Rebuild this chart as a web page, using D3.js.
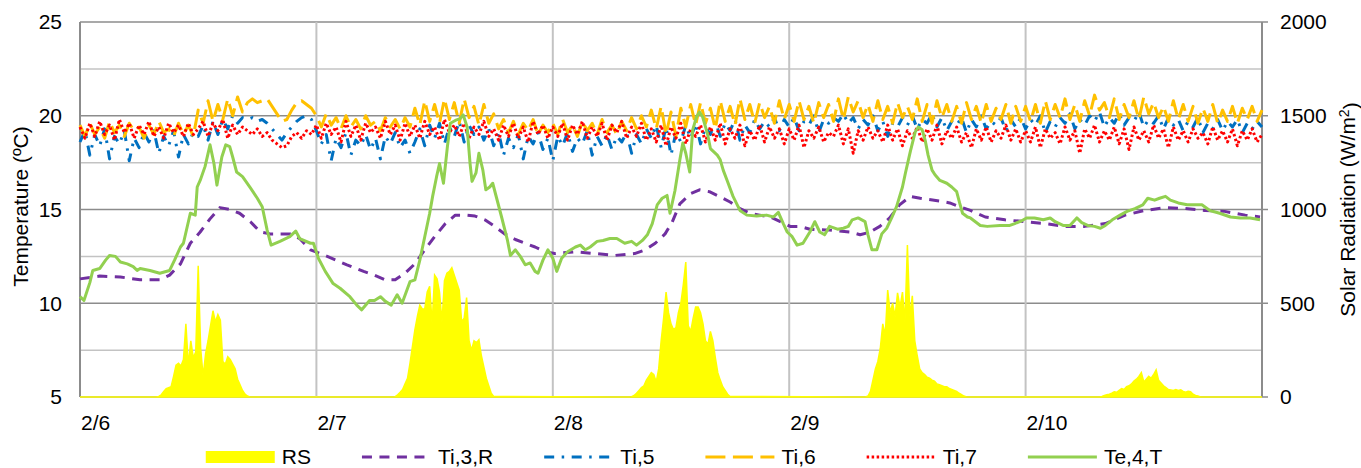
<!DOCTYPE html>
<html>
<head>
<meta charset="utf-8">
<script src="https://cdn.jsdelivr.net/npm/d3@7"></script>
<style>
body { margin: 0; background: #fff; }
svg text { font-family: "Liberation Sans", Arial, sans-serif; fill: #000; }
</style>
</head>
<body>
<svg width="1361" height="468"></svg>
<script>
// x axis: hours since 2/6 00:00
var days = ["2/6", "2/7", "2/8", "2/9", "2/10"];
var tempTicks = [5, 10, 15, 20, 25];
var radTicks = [0, 500, 1000, 1500, 2000];

// solar radiation (W/m2), one array per day, every 15 min from 06:00 to 18:00
var rsDay1 = [0,0,0,0,0,0,0,0, 3,12,30,45,50,55,110,170,180,165,200,390,170,300,210,240,700,260,110,230,300,380,460,400,440,410,190,175,215,200,175,150,95,65,35,15,5,0,0,0,0];
var rsDay2 = [0,0,0,0,0,0,0,0, 2,12,25,40,70,100,180,270,360,430,490,470,470,560,590,390,650,630,560,400,620,660,670,690,650,610,570,400,420,530,300,250,300,290,305,220,160,100,60,20,3];
var rsDay3 = [0,0,0,0,0,0,0,0, 2,8,20,35,50,60,90,110,130,120,80,150,300,420,560,450,390,360,370,450,500,600,720,380,350,420,480,480,450,390,300,280,350,300,210,130,90,55,35,15,3];
var rsDay4 = [0,0,0,0,0,0,0,0, 5,30,90,150,190,260,390,330,570,450,500,430,555,480,560,400,810,430,540,300,220,150,130,120,105,100,90,85,70,65,60,55,55,45,40,35,30,20,12,5,0];
var rsDay5 = [0,0,0,0,0,0,0, 3,8,12,15,20,28,25,35,45,40,55,60,70,85,95,110,130,80,95,110,100,120,145,90,75,60,50,40,38,35,40,35,38,30,25,30,28,15,8,5,0,0];

// Ti,3,R  [hour, degC]
var ti3r = [[0,11.3],[2,11.45],[4.1,11.4],[6.1,11.25],[8.1,11.25],[9.1,11.5],[10.2,12.1],[11.2,13.2],[12.2,13.8],[13.2,14.5],[14.2,15.1],[15.2,15.0],[16.2,14.8],[17.3,14.35],[18.3,13.8],[19.3,13.7],[21.3,13.7],[22.3,13.45],[23.4,12.85],[24.4,12.65],[27.1,12.05],[28.8,11.7],[29.9,11.5],[31,11.25],[32,11.25],[33,11.6],[34,12.1],[35,12.85],[36,13.55],[37.1,14.25],[38.1,14.7],[39.1,14.7],[40.1,14.65],[41.1,14.45],[42.1,14.1],[43.1,13.7],[44.2,13.4],[45.2,13.2],[46.2,13.0],[47.2,12.75],[48.2,12.65],[50.3,12.75],[52.3,12.65],[54.3,12.55],[56.3,12.65],[57.4,12.85],[58.4,13.2],[59.4,13.7],[60.1,14.3],[60.9,15.3],[62,15.85],[62.9,16.05],[63.9,15.95],[64.9,15.7],[66,15.4],[67,15.05],[68,14.8],[69,14.7],[70.1,14.6],[71.1,14.35],[72.1,14.1],[73.1,14.1],[74.1,13.95],[76.1,13.9],[78.2,13.8],[79.2,13.65],[80.2,13.8],[81.2,14.1],[82.2,14.55],[83.2,15.25],[84.3,15.7],[85.3,15.6],[87.3,15.45],[88.3,15.35],[89.3,15.15],[90.4,14.95],[91.9,14.6],[93.9,14.45],[95.9,14.35],[98,14.25],[100,14.1],[102,14.1],[104.1,14.25],[106.1,14.7],[108.1,14.95],[110.2,15.1],[112.2,15.05],[114.2,14.95],[116.2,14.9],[118.3,14.7],[119.8,14.6]];

// Te,4,T  [hour, degC]
var te4t = [[0,10.35],[0.4,10.15],[1,11.1],[1.3,11.75],[2,11.85],[2.6,12.3],[3,12.55],[3.6,12.5],[4.1,12.2],[4.8,12.1],[5.4,11.95],[5.8,11.75],[6.1,11.85],[7.1,11.75],[8.1,11.6],[9.1,11.75],[9.6,12.3],[10.2,13.0],[10.5,13.2],[11.2,14.8],[11.7,14.7],[11.9,16.2],[12.2,16.55],[12.7,17.3],[13.2,18.45],[13.6,17.45],[13.9,16.3],[14.4,17.8],[14.8,18.45],[15.2,18.35],[15.5,17.8],[15.9,17.0],[16.5,16.75],[17.3,16.15],[18,15.6],[18.5,15.15],[19,13.9],[19.4,13.1],[20.3,13.3],[21.3,13.55],[21.9,13.85],[22.3,13.45],[23.4,13.2],[23.7,13.2],[24.2,12.4],[24.9,11.7],[25.7,11.05],[26.4,10.8],[27.4,10.35],[28.1,9.9],[28.6,9.65],[29.4,10.15],[29.9,10.15],[30.5,10.35],[31,10.1],[31.6,9.9],[32.2,10.45],[32.7,10.0],[33.5,11.15],[34,11.25],[34.5,12.3],[35,13.55],[35.5,14.8],[35.8,15.7],[36.2,16.75],[36.5,17.45],[36.9,16.4],[37.3,18.35],[37.6,19.6],[38.1,19.75],[38.6,19.85],[38.9,20.05],[39.3,19.4],[39.6,17.45],[39.8,16.5],[40.2,16.95],[40.5,18.0],[40.9,17.1],[41.2,16.05],[41.6,16.2],[41.9,16.4],[42.3,15.6],[42.8,14.6],[43.4,13.35],[43.7,12.55],[44.2,12.85],[44.7,12.5],[45.2,12.05],[45.7,12.15],[46.2,11.7],[46.5,11.6],[47,12.3],[47.5,12.85],[48,12.4],[48.4,11.7],[48.9,12.4],[49.5,12.75],[50.3,13.0],[50.8,13.1],[51.3,12.85],[51.8,13.0],[52.5,13.3],[53.1,13.35],[53.8,13.45],[54.5,13.45],[55.3,13.2],[56,13.3],[56.5,13.1],[57.1,13.35],[57.6,13.65],[58.1,14.25],[58.6,15.25],[59.1,15.6],[59.6,15.75],[59.9,14.8],[60.4,16.0],[60.9,17.65],[61.2,18.55],[61.5,18.0],[61.9,17.0],[62.2,19.25],[62.6,19.95],[62.9,20.2],[63.2,19.95],[63.7,19.05],[64,18.25],[64.7,17.9],[65,17.65],[65.3,17.1],[65.7,16.55],[66.3,15.7],[67,14.95],[67.7,14.7],[68.7,14.65],[69.7,14.7],[70.4,14.6],[70.9,14.85],[71.4,14.25],[71.8,13.8],[72.3,13.55],[72.8,13.1],[73.4,13.2],[74.1,13.8],[74.6,14.35],[75.1,13.8],[75.6,13.65],[76.1,14.1],[76.9,13.95],[77.5,14.0],[78,14.1],[78.4,14.45],[79,14.55],[79.7,14.35],[80,13.65],[80.4,12.85],[80.9,12.85],[81.4,13.7],[81.9,14.0],[82.4,14.55],[82.9,15.15],[83.5,16.2],[83.8,16.95],[84.3,18.1],[84.8,19.15],[85.1,19.4],[85.5,19.25],[85.8,18.7],[86.1,17.9],[86.5,17.1],[86.8,16.85],[87.3,16.55],[88,16.4],[88.5,16.2],[89,15.95],[89.3,15.35],[89.6,14.8],[90.1,14.6],[90.4,14.55],[90.9,14.35],[91.4,14.15],[92.1,14.1],[93.4,14.15],[94.4,14.15],[94.9,14.25],[95.6,14.4],[96.1,14.55],[96.9,14.55],[97.8,14.45],[98.5,14.55],[99,14.35],[99.8,14.15],[100.5,14.15],[101.2,14.55],[101.7,14.3],[102.3,14.15],[103,14.1],[103.6,14.0],[104.1,14.15],[104.8,14.45],[105.6,14.7],[106.3,14.9],[107.1,15.05],[107.9,15.25],[108.4,15.6],[109.1,15.5],[109.6,15.6],[110.2,15.7],[110.7,15.5],[111.5,15.35],[112.4,15.25],[113.2,15.25],[113.9,15.25],[114.7,14.95],[115.7,14.8],[116.8,14.6],[117.8,14.55],[118.8,14.55],[119.8,14.45]];

// Ti,5 / Ti,6 / Ti,7 every 30 min from 2/6 00:00 (one row per day)
var ti5 = [
  18.6,19.2,17.9,19.0,18.4,19.3,17.7,18.9,18.5,19.2,17.6,18.8,18.3,19.1,18.6,19.2,18.0,18.9,18.4,19.2,17.8,19.0,18.5,19.1, 18.9,19.5,18.7,19.7,19.0,19.8,19.3,20.0,19.6,19.9,19.8, 19.9,19.7,19.8,19.6,19.3,19.0,18.7,19.1,19.4,19.7,19.9,20.0,19.8,
  19.2,18.5,19.0,17.6,18.8,18.3,19.1,17.9,18.7,18.4,19.0,18.2,18.8,17.7,18.9,18.5,19.1,18.3,18.7,18.0, 18.6,19.3,18.4,19.5,18.8,19.6,18.5,19.4,18.9,19.7,18.6,19.5,19.0,19.4,18.7,19.3, 18.4,19.1,17.9,18.8,18.3,19.0,17.7,18.9,18.5,19.1,18.2,18.8,
  17.6,18.9,18.4,19.1,18.1,18.8,18.5,19.2,17.9,18.9,18.4,19.0,18.2,18.9,18.6,19.1,18.0,19.0,18.5,19.3, 18.8,19.5,18.3,19.4,17.9,19.1,18.6,19.5,18.8,19.6,18.5,19.4,19.0,19.7,18.9,19.6,19.2,19.8,18.7,19.5,19.1,19.8,19.3,19.7,19.4,19.9,19.2,19.8,
  19.4,19.9,19.2,19.7,19.5,20.0,19.1,19.8,19.6,19.9,19.7,20.1,19.6,19.9,19.3,19.8,19.5,20.0,19.2,19.7,18.9,19.6,19.4,19.9,19.5,20.0,19.3,19.8,19.6,20.1,19.4,19.9,19.2,19.7,19.5,19.9,19.1,19.8,19.4,20.0,19.3,19.7,19.5,19.9,19.2,19.8,19.4,19.9,
  19.3,19.8,19.5,20.0,19.1,19.7,19.4,19.9,19.6,20.1,19.3,19.8,19.5,20.0,19.7,20.2,19.4,19.9,19.6,20.1,19.5,19.9,19.7,20.2,19.4,19.8,19.6,20.0,19.3,19.9,19.5,19.8,19.2,19.7,19.4,19.9,19.1,19.6,19.3,19.8,19.2,19.7,19.4,19.8,19.1,19.6,19.3,19.7,19.4
];
var ti6 = [
  19.5,18.9,19.6,19.0,19.4,18.8,19.7,19.1,19.5,18.9,19.6,19.2,19.4,18.8,19.5,19.0,19.7,19.1,19.3,18.9,19.6,19.0,19.5,18.9, 20.3,19.6,20.8,19.7,20.6,19.8,20.9,20.0,21.0,20.2,20.7, 20.9,20.7,20.8,20.9,20.5,20.1,19.7,19.8,20.3,20.7,20.8,20.6,20.4,
  20.0,19.4,20.1,19.5,19.9,19.3,20.0,19.4,19.8,19.3,20.0,19.5,19.7,19.2,19.9,19.4,19.8,19.3,19.9,19.4, 20.4,19.5,20.8,19.7,20.6,19.6,20.9,19.8,20.7,19.6,20.9,19.9,20.5,19.5,20.6,19.6, 20.1,19.3,19.8,19.1,19.7,19.0,19.6,19.2,19.8,19.0,19.5,19.1,
  19.6,19.0,19.8,19.1,19.5,18.9,19.7,19.2,19.6,19.0,19.8,19.1,19.5,19.0,19.7,19.2,19.9,19.3,20.0,19.4, 20.3,19.3,20.5,19.0,20.2,18.9,20.4,19.4,20.6,19.5,20.7,19.6,20.4,19.3,20.8,19.7,20.5,19.5,20.9,19.8,20.6,19.6,20.7,19.9,20.5,19.6,20.8,19.8,
  20.6,19.7,20.8,19.8,20.5,19.6,20.7,19.9,20.6,19.7,20.9,19.8,21.0,20.2,20.8,19.9,20.6,19.7,20.8,19.8,20.5,19.6,20.7,19.9,20.5,19.8,20.9,19.7,20.6,19.6,20.8,19.9,20.6,19.7,20.5,19.6,20.7,19.8,20.5,19.6,20.6,19.7,20.4,19.8,20.6,19.6,20.5,19.7,
  20.5,19.7,20.6,19.6,20.8,19.8,20.6,19.9,20.9,19.8,20.6,19.7,20.8,20.0,21.1,20.3,20.7,19.9,20.9,19.8,20.6,19.9,20.8,19.8,21.0,20.1,20.7,19.9,20.5,19.7,20.8,19.8,20.6,19.7,20.5,19.6,20.4,19.7,20.6,19.6,20.3,19.7,20.5,19.6,20.4,19.8,20.5,19.7,20.3
];
var ti7 = [
  19.4,18.8,19.6,18.9,19.7,19.0,19.5,18.7,19.8,19.1,19.6,18.8,19.5,19.0,19.7,18.9,19.4,18.8,19.6,19.1,19.5,18.9,19.6,19.0, 19.3,19.7,18.9,19.6,19.2,19.8,18.8,19.5,19.0,19.4,19.2, 19.0,19.3,18.9,19.1,18.7,18.5,18.3,18.4,18.9,19.1,18.8,19.2,19.0,
  19.5,18.8,19.6,19.0,19.4,18.6,19.7,18.9,19.5,18.7,19.6,19.1,19.4,18.8,19.7,19.0,19.5,18.7,19.6,18.9, 19.5,18.8,19.7,19.0,19.4,18.7,19.8,19.1,19.5,18.9,19.6,18.8,19.4,19.0,19.7,18.9, 19.3,18.7,19.5,18.9,19.6,18.8,19.4,18.6,19.7,19.0,19.5,18.8,
  19.4,18.9,19.6,18.7,19.5,19.0,19.7,18.8,19.4,18.9,19.6,18.7,19.5,19.1,19.7,18.8,19.4,18.9,19.6,18.7, 19.3,18.6,19.5,18.4,19.4,18.8,19.6,18.5,19.3,18.9,19.5,18.6,19.4,18.7,19.6,18.5,19.3,18.8,19.5,18.4,19.2,18.7,19.5,18.6,19.4,18.8,19.3,18.5,
  19.3,18.7,19.5,18.3,19.2,18.8,19.4,18.6,19.1,18.9,19.5,18.5,19.3,18.0,19.2,18.7,19.4,18.8,19.2,18.6,19.5,18.7,19.3,18.4,19.2,18.8,19.4,18.6,19.3,18.7,19.5,18.5,19.2,18.8,19.4,18.6,19.1,18.3,19.3,18.7,19.4,18.6,19.2,18.8,19.5,18.7,19.3,18.6,
  19.2,18.6,19.4,18.3,19.3,18.8,19.1,18.5,19.4,18.7,19.2,18.0,19.3,18.8,19.5,18.6,19.2,18.7,19.4,18.5,19.3,18.2,19.4,18.7,19.2,18.6,19.5,18.8,19.3,18.3,19.4,18.7,19.2,18.6,19.3,18.8,19.1,18.5,19.4,18.7,19.2,18.6,19.3,18.4,19.2,18.7,19.3,18.6,19.0
];

var svg = d3.select("svg"),
    margin = {top: 22, right: 99, bottom: 71, left: 80},
    width = +svg.attr("width") - margin.left - margin.right,
    height = +svg.attr("height") - margin.top - margin.bottom;

var g = svg.append("g")
    .attr("transform", "translate(" + margin.left + "," + margin.top + ")");

var x = d3.scaleLinear().domain([0, 120]).range([0, width]);
var yT = d3.scaleLinear().domain([5, 25]).range([height, 0]);
var yR = d3.scaleLinear().domain([0, 2000]).range([height, 0]);

// grid: light lines every 2.5 degC, darker on the labelled ones
g.append("g").selectAll("line")
    .data(d3.range(5, 25.01, 2.5))
    .enter().append("line")
    .attr("x1", 0).attr("x2", width)
    .attr("y1", function (d) { return yT(d); })
    .attr("y2", function (d) { return yT(d); })
    .style("stroke", function (d) { return d % 5 === 0 ? "#8c8c8c" : "#c3c3c3"; })
    .style("stroke-width", 1.5);

g.append("g").selectAll("line")
    .data(d3.range(1, days.length))
    .enter().append("line")
    .attr("x1", function (d) { return x(d * 24); })
    .attr("x2", function (d) { return x(d * 24); })
    .attr("y1", 0).attr("y2", height)
    .style("stroke", "#c3c3c3")
    .style("stroke-width", 2);

// left and right axis lines
g.append("line").attr("x1", 0).attr("x2", 0).attr("y1", 0).attr("y2", height)
    .style("stroke", "#8c8c8c").style("stroke-width", 2);
g.append("line").attr("x1", width).attr("x2", width).attr("y1", 0).attr("y2", height)
    .style("stroke", "#8c8c8c").style("stroke-width", 2);

g.append("g").selectAll("line")
    .data(radTicks)
    .enter().append("line")
    .attr("x1", width).attr("x2", width + 6)
    .attr("y1", function (d) { return yR(d); })
    .attr("y2", function (d) { return yR(d); })
    .style("stroke", "#8c8c8c").style("stroke-width", 1.5);

// tick labels
g.append("g").selectAll("text")
    .data(tempTicks)
    .enter().append("text")
    .attr("x", -18)
    .attr("y", function (d) { return yT(d); })
    .attr("dy", "0.35em")
    .style("text-anchor", "end")
    .style("font-size", "21px")
    .text(function (d) { return d; });

g.append("g").selectAll("text")
    .data(radTicks)
    .enter().append("text")
    .attr("x", width + 18)
    .attr("y", function (d) { return yR(d); })
    .attr("dy", "0.35em")
    .style("font-size", "21px")
    .text(function (d) { return d; });

g.append("g").selectAll("text")
    .data(days)
    .enter().append("text")
    .attr("x", function (d, i) { return x(i * 24) + 1; })
    .attr("y", height + 33)
    .style("font-size", "21px")
    .text(function (d) { return d; });

// axis titles
g.append("text")
    .attr("transform", "translate(" + (-52) + "," + (height / 2 - 3) + ") rotate(-90)")
    .style("text-anchor", "middle")
    .style("font-size", "21px")
    .text("Temperature (ºC)");

var rt = g.append("text")
    .attr("transform", "translate(" + (width + 93) + "," + (height / 2) + ") rotate(-90)")
    .style("text-anchor", "middle")
    .style("font-size", "21px");
rt.append("tspan").text("Solar Radiation (W/m");
rt.append("tspan").attr("dy", "-0.4em").style("font-size", "14px").text("2");
rt.append("tspan").attr("dy", "0.4em").text(")");

// RS area
var rsData = [[0, 0]];
[rsDay1, rsDay2, rsDay3, rsDay4, rsDay5].forEach(function (arr, d) {
    arr.forEach(function (v, k) { rsData.push([d * 24 + 6 + k * 0.25, v]); });
});
rsData.push([120, 0]);

g.append("path")
    .datum(rsData)
    .attr("d", d3.area()
        .x(function (d) { return x(d[0]); })
        .y0(height)
        .y1(function (d) { return yR(d[1]); }))
    .style("fill", "#ffff00")
    .style("stroke", "#ffff00")
    .style("stroke-width", 1.5);

var tLine = d3.line()
    .x(function (d) { return x(d[0]); })
    .y(function (d) { return yT(d[1]); });

function halfHourly(arr) {
    return arr.map(function (v, i) { return [i * 0.5, v]; });
}

var series = [
    {name: "Ti,3,R", data: ti3r, color: "#7030a0", dash: "10,7.5"},
    {name: "Ti,5", data: halfHourly(ti5), color: "#0070c0", dash: "10,7.5,2.5,7.5"},
    {name: "Ti,6", data: halfHourly(ti6), color: "#ffc000", dash: "20,7.5"},
    {name: "Ti,7", data: halfHourly(ti7), color: "#ff0000", dash: "2.5,2.5"},
    {name: "Te,4,T", data: te4t, color: "#92d050", dash: null}
];

series.forEach(function (s) {
    g.append("path")
        .datum(s.data)
        .attr("d", tLine)
        .style("fill", "none")
        .style("stroke", s.color)
        .style("stroke-width", 3)
        .style("stroke-linejoin", "round")
        .style("stroke-dasharray", s.dash);
});

// legend
var legend = svg.append("g");
var items = [{name: "RS", color: "#ffff00", area: true}].concat(series);
var lx = 0;
items.forEach(function (s) {
    var it = legend.append("g").attr("transform", "translate(" + lx + ",0)");
    if (s.area) {
        it.append("rect").attr("x", 0).attr("y", -6).attr("width", 69).attr("height", 12)
            .style("fill", s.color);
    } else {
        it.append("line").attr("x1", 0).attr("x2", 69).attr("y1", 0).attr("y2", 0)
            .style("stroke", s.color).style("stroke-width", 3)
            .style("stroke-dasharray", s.dash);
    }
    var t = it.append("text").attr("x", 76).attr("y", 0).attr("dy", "0.35em")
        .style("font-size", "21px").text(s.name);
    lx += 76 + t.node().getComputedTextLength() + 51;
});
lx -= 51;
legend.attr("transform", "translate(" + (684 - lx / 2) + ",457)");
</script>
</body>
</html>
